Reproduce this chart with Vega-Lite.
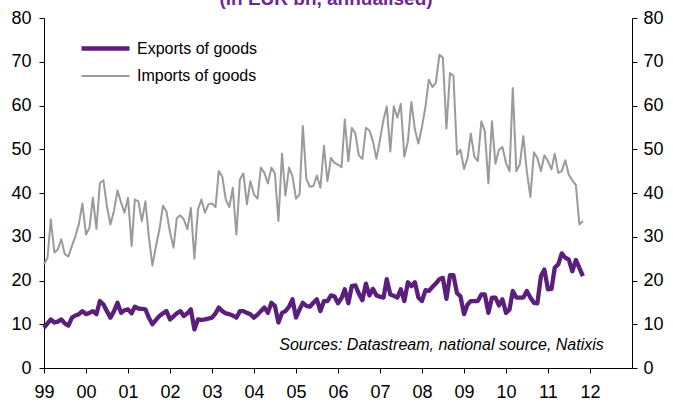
{
  "$schema": "https://vega.github.io/schema/vega-lite/v6.json",
  "width": 588,
  "height": 350,
  "autosize": "none",
  "padding": {"left": 44, "top": 18, "right": 41, "bottom": 42},
  "background": "white",
  "title": {"text": "(in EUR bn, annualised)", "fontSize": 19, "font": "Liberation Sans", "fontWeight": "bold", "color": "#6B2A90", "anchor": "middle", "dy": 0, "dx": -12, "offset": 0},
  "config": {
    "view": {"stroke": null},
    "font": "Liberation Sans",
    "axis": {"grid": false, "domainColor": "#000000", "tickColor": "#000000", "labelColor": "#000000", "labelFont": "Liberation Sans", "labelFontSize": 18, "tickSize": 5, "domainWidth": 1, "tickWidth": 1}
  },
  "data": {"values": [
{"d":"1999-01-01","e":9.2,"i":23.7},{"d":"1999-02-01","e":10.2,"i":25.2},{"d":"1999-03-01","e":11.1,"i":34.0},{"d":"1999-04-01","e":10.4,"i":26.4},{"d":"1999-05-01","e":10.6,"i":27.1},{"d":"1999-06-01","e":11.1,"i":29.4},{"d":"1999-07-01","e":10.2,"i":26.0},{"d":"1999-08-01","e":9.7,"i":25.5},{"d":"1999-09-01","e":11.5,"i":27.9},{"d":"1999-10-01","e":12.0,"i":30.1},{"d":"1999-11-01","e":12.3,"i":33.0},{"d":"1999-12-01","e":13.0,"i":37.6},
{"d":"2000-01-01","e":12.3,"i":30.5},{"d":"2000-02-01","e":12.6,"i":32.1},{"d":"2000-03-01","e":13.0,"i":38.9},{"d":"2000-04-01","e":12.3,"i":31.8},{"d":"2000-05-01","e":15.3,"i":42.3},{"d":"2000-06-01","e":14.5,"i":42.9},{"d":"2000-07-01","e":13.0,"i":37.0},{"d":"2000-08-01","e":11.5,"i":32.8},{"d":"2000-09-01","e":13.0,"i":36.0},{"d":"2000-10-01","e":14.9,"i":40.6},{"d":"2000-11-01","e":12.6,"i":37.8},{"d":"2000-12-01","e":13.2,"i":35.5},
{"d":"2001-01-01","e":13.4,"i":38.9},{"d":"2001-02-01","e":12.5,"i":27.9},{"d":"2001-03-01","e":14.0,"i":38.5},{"d":"2001-04-01","e":13.6,"i":38.1},{"d":"2001-05-01","e":13.5,"i":33.6},{"d":"2001-06-01","e":13.4,"i":38.1},{"d":"2001-07-01","e":11.5,"i":30.0},{"d":"2001-08-01","e":10.0,"i":23.4},{"d":"2001-09-01","e":11.0,"i":27.9},{"d":"2001-10-01","e":11.9,"i":31.7},{"d":"2001-11-01","e":12.5,"i":37.1},{"d":"2001-12-01","e":13.0,"i":35.8},
{"d":"2002-01-01","e":11.1,"i":31.0},{"d":"2002-02-01","e":11.8,"i":27.5},{"d":"2002-03-01","e":12.5,"i":34.3},{"d":"2002-04-01","e":13.0,"i":34.9},{"d":"2002-05-01","e":11.9,"i":34.0},{"d":"2002-06-01","e":12.5,"i":31.7},{"d":"2002-07-01","e":13.4,"i":36.6},{"d":"2002-08-01","e":8.8,"i":25.0},{"d":"2002-09-01","e":11.1,"i":36.2},{"d":"2002-10-01","e":11.0,"i":38.5},{"d":"2002-11-01","e":11.1,"i":35.5},{"d":"2002-12-01","e":11.3,"i":37.4},
{"d":"2003-01-01","e":11.5,"i":37.6},{"d":"2003-02-01","e":12.5,"i":36.8},{"d":"2003-03-01","e":13.8,"i":45.0},{"d":"2003-04-01","e":13.0,"i":43.7},{"d":"2003-05-01","e":12.5,"i":38.5},{"d":"2003-06-01","e":12.3,"i":36.8},{"d":"2003-07-01","e":12.0,"i":41.2},{"d":"2003-08-01","e":11.5,"i":30.5},{"d":"2003-09-01","e":13.0,"i":43.1},{"d":"2003-10-01","e":13.0,"i":44.5},{"d":"2003-11-01","e":12.6,"i":37.4},{"d":"2003-12-01","e":12.3,"i":42.7},
{"d":"2004-01-01","e":11.5,"i":39.7},{"d":"2004-02-01","e":12.2,"i":38.7},{"d":"2004-03-01","e":13.0,"i":45.8},{"d":"2004-04-01","e":13.8,"i":44.6},{"d":"2004-05-01","e":12.6,"i":42.2},{"d":"2004-06-01","e":14.9,"i":45.8},{"d":"2004-07-01","e":14.2,"i":44.5},{"d":"2004-08-01","e":10.4,"i":33.6},{"d":"2004-09-01","e":12.6,"i":49.0},{"d":"2004-10-01","e":13.0,"i":39.4},{"d":"2004-11-01","e":14.0,"i":45.8},{"d":"2004-12-01","e":15.7,"i":43.8},
{"d":"2005-01-01","e":11.5,"i":38.7},{"d":"2005-02-01","e":13.4,"i":39.7},{"d":"2005-03-01","e":14.9,"i":55.3},{"d":"2005-04-01","e":14.2,"i":43.2},{"d":"2005-05-01","e":14.0,"i":41.4},{"d":"2005-06-01","e":14.9,"i":41.6},{"d":"2005-07-01","e":15.7,"i":44.0},{"d":"2005-08-01","e":13.0,"i":41.2},{"d":"2005-09-01","e":15.3,"i":50.8},{"d":"2005-10-01","e":15.3,"i":42.7},{"d":"2005-11-01","e":16.6,"i":48.0},{"d":"2005-12-01","e":16.4,"i":46.9},
{"d":"2006-01-01","e":14.8,"i":46.5},{"d":"2006-02-01","e":16.0,"i":45.9},{"d":"2006-03-01","e":18.0,"i":56.8},{"d":"2006-04-01","e":14.8,"i":47.3},{"d":"2006-05-01","e":18.7,"i":54.9},{"d":"2006-06-01","e":18.9,"i":53.6},{"d":"2006-07-01","e":17.0,"i":48.6},{"d":"2006-08-01","e":15.5,"i":47.8},{"d":"2006-09-01","e":19.3,"i":54.9},{"d":"2006-10-01","e":16.6,"i":54.3},{"d":"2006-11-01","e":18.1,"i":51.8},{"d":"2006-12-01","e":16.6,"i":47.8},
{"d":"2007-01-01","e":16.3,"i":52.2},{"d":"2007-02-01","e":16.1,"i":56.8},{"d":"2007-03-01","e":20.3,"i":59.8},{"d":"2007-04-01","e":16.8,"i":49.5},{"d":"2007-05-01","e":16.5,"i":59.8},{"d":"2007-06-01","e":16.1,"i":57.2},{"d":"2007-07-01","e":18.0,"i":60.4},{"d":"2007-08-01","e":15.3,"i":48.3},{"d":"2007-09-01","e":19.6,"i":51.8},{"d":"2007-10-01","e":18.7,"i":60.8},{"d":"2007-11-01","e":19.6,"i":54.5},{"d":"2007-12-01","e":16.1,"i":51.3},
{"d":"2008-01-01","e":15.3,"i":55.1},{"d":"2008-02-01","e":17.8,"i":59.8},{"d":"2008-03-01","e":17.6,"i":65.9},{"d":"2008-04-01","e":18.5,"i":64.2},{"d":"2008-05-01","e":19.3,"i":65.2},{"d":"2008-06-01","e":20.3,"i":71.6},{"d":"2008-07-01","e":20.6,"i":70.9},{"d":"2008-08-01","e":15.8,"i":54.7},{"d":"2008-09-01","e":21.2,"i":67.4},{"d":"2008-10-01","e":21.2,"i":66.8},{"d":"2008-11-01","e":17.1,"i":48.8},{"d":"2008-12-01","e":16.4,"i":49.9},
{"d":"2009-01-01","e":12.3,"i":45.5},{"d":"2009-02-01","e":14.5,"i":48.0},{"d":"2009-03-01","e":15.3,"i":53.6},{"d":"2009-04-01","e":15.3,"i":48.3},{"d":"2009-05-01","e":15.3,"i":47.3},{"d":"2009-06-01","e":16.8,"i":56.4},{"d":"2009-07-01","e":16.8,"i":54.1},{"d":"2009-08-01","e":12.6,"i":42.2},{"d":"2009-09-01","e":16.1,"i":56.4},{"d":"2009-10-01","e":16.1,"i":46.7},{"d":"2009-11-01","e":14.3,"i":49.9},{"d":"2009-12-01","e":15.7,"i":50.5},
{"d":"2010-01-01","e":12.6,"i":46.9},{"d":"2010-02-01","e":13.4,"i":45.0},{"d":"2010-03-01","e":17.6,"i":64.0},{"d":"2010-04-01","e":16.1,"i":45.0},{"d":"2010-05-01","e":16.1,"i":46.5},{"d":"2010-06-01","e":16.1,"i":53.0},{"d":"2010-07-01","e":17.6,"i":45.0},{"d":"2010-08-01","e":16.1,"i":39.1},{"d":"2010-09-01","e":14.9,"i":49.3},{"d":"2010-10-01","e":14.8,"i":48.0},{"d":"2010-11-01","e":21.0,"i":45.0},{"d":"2010-12-01","e":22.5,"i":48.6},
{"d":"2011-01-01","e":18.0,"i":47.3},{"d":"2011-02-01","e":18.1,"i":45.4},{"d":"2011-03-01","e":22.9,"i":49.0},{"d":"2011-04-01","e":23.7,"i":44.6},{"d":"2011-05-01","e":26.2,"i":45.0},{"d":"2011-06-01","e":25.2,"i":47.5},{"d":"2011-07-01","e":24.8,"i":44.2},{"d":"2011-08-01","e":22.1,"i":42.9},{"d":"2011-09-01","e":24.7,"i":41.8},{"d":"2011-10-01","e":22.9,"i":32.8},{"d":"2011-11-01","e":21.0,"i":33.6}
  ]},
  "resolve": {"axis": {"y": "independent"}},
  "layer": [
    {
      "mark": {"type": "line", "strokeJoin": "round"},
      "encoding": {
        "x": {"field": "d", "type": "temporal", "scale": {"domain": [{"year": 1999, "month": 1, "date": 1}, {"year": 2013, "month": 1, "date": 1}]}, "axis": {"title": null, "format": "%y", "values": [{"year":1999},{"year":2000},{"year":2001},{"year":2002},{"year":2003},{"year":2004},{"year":2005},{"year":2006},{"year":2007},{"year":2008},{"year":2009},{"year":2010},{"year":2011},{"year":2012}], "labelPadding": 10, "labelAlign": "center"}},
        "y": {"field": "i", "type": "quantitative", "scale": {"domain": [0, 80], "nice": false}, "axis": {"title": null, "orient": "left", "values": [0,10,20,30,40,50,60,70,80], "labelPadding": 8}},
        "color": {"datum": "Imports of goods", "type": "nominal", "scale": {"domain": ["Exports of goods", "Imports of goods"], "range": ["#5A1F7C", "#9A9A9A"]}, "legend": {"orient": "none", "legendX": 44, "legendY": 13, "title": null, "padding": 0, "symbolType": "M-1.6,0H1.6", "symbolSize": 900, "rowPadding": 2, "labelOffset": 14, "labelFontSize": 16, "labelFont": "Liberation Sans", "labelColor": "#000000"}},
        "strokeWidth": {"datum": "Imports of goods", "type": "nominal", "scale": {"domain": ["Exports of goods", "Imports of goods"], "range": [4.3, 2]}, "legend": {"orient": "none", "legendX": 44, "legendY": 13, "title": null, "padding": 0, "symbolType": "M-1.6,0H1.6", "symbolSize": 900, "rowPadding": 2, "labelOffset": 14, "labelFontSize": 16, "labelFont": "Liberation Sans", "labelColor": "#000000"}}
      }
    },
    {
      "mark": {"type": "line", "strokeJoin": "round"},
      "encoding": {
        "x": {"field": "d", "type": "temporal"},
        "y": {"field": "e", "type": "quantitative", "axis": {"title": null, "orient": "right", "values": [0,10,20,30,40,50,60,70,80], "labelPadding": 6}},
        "color": {"datum": "Exports of goods", "type": "nominal"},
        "strokeWidth": {"datum": "Exports of goods", "type": "nominal"}
      }
    },
    {
      "data": {"values": [{"note": "Sources: Datastream, national source, Natixis"}]},
      "mark": {"type": "text", "align": "right", "baseline": "middle", "font": "Liberation Sans", "fontStyle": "italic", "fontSize": 16, "color": "#000000"},
      "encoding": {
        "x": {"datum": {"year": 2012, "month": 5, "date": 1}, "type": "temporal"},
        "y": {"datum": 5.3, "type": "quantitative", "axis": null},
        "text": {"field": "note"}
      }
    }
  ]
}
